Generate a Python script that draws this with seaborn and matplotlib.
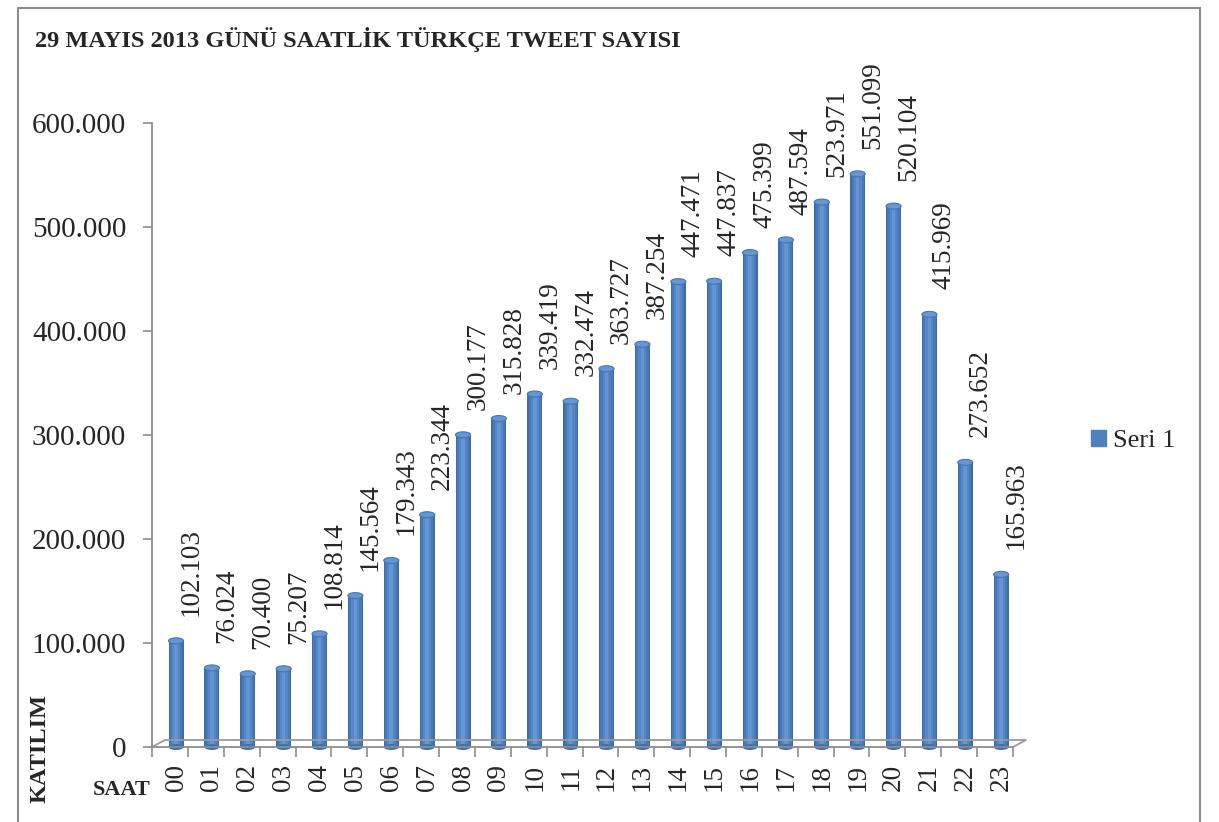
import numpy as np
import pandas as pd
import seaborn as sns
import matplotlib.pyplot as plt
from matplotlib.patches import Ellipse, Patch, Rectangle

saat = ['00', '01', '02', '03', '04', '05', '06', '07', '08', '09', '10', '11',
        '12', '13', '14', '15', '16', '17', '18', '19', '20', '21', '22', '23']
tweet = [102103, 76024, 70400, 75207, 108814, 145564, 179343, 223344,
         300177, 315828, 339419, 332474, 363727, 387254, 447471, 447837,
         475399, 487594, 523971, 551099, 520104, 415969, 273652, 165963]
y_ticks = [0, 100000, 200000, 300000, 400000, 500000, 600000]
title = '29 MAYIS 2013 GÜNÜ SAATLİK TÜRKÇE TWEET SAYISI'


def tr_num(v):
    # turkish style thousands separator
    return f'{v:,}'.replace(',', '.')


df = pd.DataFrame({'saat': saat, 'tweet': tweet})

sns.set_style('white')
plt.rcParams['font.family'] = ['Liberation Serif', 'DejaVu Serif']

fig = plt.figure(figsize=(12.19, 8.22), dpi=100)
ax = fig.add_axes([152 / 1219, 1 - 747 / 822, 861 / 1219, 624 / 822])

# fake cylinder shading: layered bars, darker at the edges
for w, c in [(0.42, '#3E6CA5'), (0.34, '#4879B8'), (0.22, '#5387C8'), (0.1, '#6395D3')]:
    sns.barplot(data=df, x='saat', y='tweet', color=c, width=w, saturation=1,
                linewidth=0, errorbar=None, ax=ax)

cap_h = 6 / 624 * 600000
for i, v in enumerate(tweet):
    ax.add_patch(Ellipse((i, v), 0.42, cap_h, facecolor='#6796D2',
                         edgecolor='#4676B4', lw=0.8, zorder=5))
    ax.add_patch(Ellipse((i, 0), 0.42, cap_h, facecolor='#4272AD',
                         edgecolor='none', zorder=1, clip_on=False))
    ax.annotate(tr_num(v), (i, v), xytext=(15, 25),
                textcoords='offset pixels', rotation=90, ha='center',
                va='bottom', fontsize=19.5)

ax.set_xlim(-0.67, 23.33)
ax.set_ylim(0, 600000)
ax.set_xlabel('')
ax.set_ylabel('')

ax.set_yticks(y_ticks)
ax.set_yticklabels([tr_num(t) for t in y_ticks])
ax.set_xticks(range(len(saat)))
ax.set_xticklabels(saat, rotation=90)
ax.set_xticks(np.arange(len(saat) + 1) - 0.67, minor=True)

ax.tick_params(axis='y', left=True, length=6.5, width=1.2, color='#8c8c8c',
               labelsize=21, pad=12, direction='out')
ax.tick_params(axis='x', which='major', length=0, pad=12, labelsize=19.5)
ax.tick_params(axis='x', which='minor', bottom=True, length=7, width=1.2,
               color='#8c8c8c', direction='out')

for s in ['top', 'right']:
    ax.spines[s].set_visible(False)
for s in ['left', 'bottom']:
    ax.spines[s].set_color('#8c8c8c')
    ax.spines[s].set_linewidth(1.3)

# 3d floor edge
dx, dy = 13 / 861, 7 / 624
ax.plot([0, dx, 1 + dx, 1], [0, dy, dy, 0], transform=ax.transAxes,
        color='#9a9a9a', lw=1.3, clip_on=False)

fig.text(35 / 1219, 1 - 40 / 822, title, fontsize=17.6, fontweight='bold',
         ha='left', va='center')
fig.text(40 / 1219, 1 - 748 / 822, 'KATILIM', rotation=90, fontsize=17.5,
         fontweight='bold', ha='center', va='center')
fig.text(151 / 1219, 1 - 790 / 822, 'SAAT', fontsize=16, fontweight='bold',
         ha='right', va='center')

fig.legend(handles=[Patch(color='#4F81BD', label='Seri 1')], loc='center left',
           bbox_to_anchor=(1091 / 1219, 1 - 441 / 822), frameon=False,
           fontsize=19, handlelength=0.57, handleheight=0.57,
           handletextpad=0.25, borderaxespad=0, borderpad=0)

fig.add_artist(Rectangle((18 / 1219, -0.05), (1200 - 18) / 1219, 1.05 - 8 / 822,
                         transform=fig.transFigure, fill=False,
                         edgecolor='#8c8c8c', lw=1.5))

fig.savefig('out.png', dpi=100)
